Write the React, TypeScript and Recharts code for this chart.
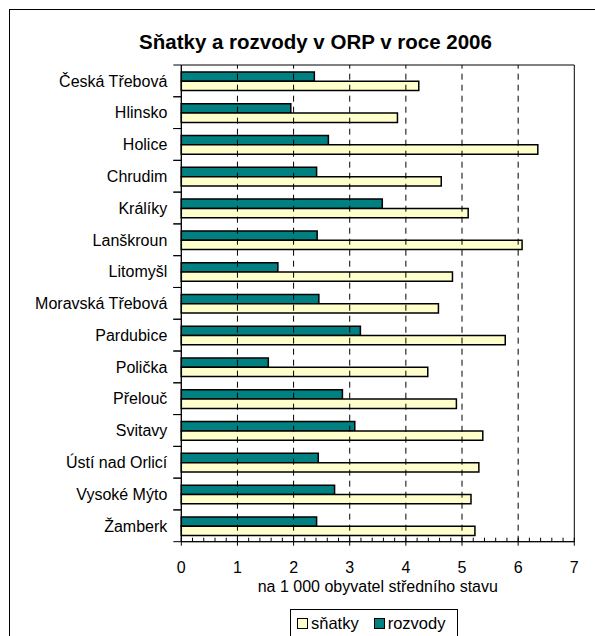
import React from "react";
import { BarChart, Bar, XAxis, YAxis, ReferenceLine, ReferenceArea } from "recharts";

const towns = [
  "Česká Třebová",
  "Hlinsko",
  "Holice",
  "Chrudim",
  "Králíky",
  "Lanškroun",
  "Litomyšl",
  "Moravská Třebová",
  "Pardubice",
  "Polička",
  "Přelouč",
  "Svitavy",
  "Ústí nad Orlicí",
  "Vysoké Mýto",
  "Žamberk",
];

const snatky = [4.23, 3.85, 6.35, 4.63, 5.11, 6.07, 4.83, 4.58, 5.77, 4.39, 4.9, 5.37, 5.3, 5.16, 5.23];
const rozvody = [2.37, 1.95, 2.62, 2.41, 3.58, 2.42, 1.72, 2.45, 3.19, 1.55, 2.87, 3.09, 2.44, 2.73, 2.41];

const majorTicks = [0, 1, 2, 3, 4, 5, 6, 7];
const gridValues = [1, 2, 3, 4, 5, 6];
const minorStep = 0.2;
const axisTicks: number[] = [];
for (let i = 0; i <= 35; i++) axisTicks.push(Math.round(i * minorStep * 10) / 10);

const data = towns.map((town, i) => ({ town, snatky: snatky[i], rozvody: rozvody[i] }));

const FONT = '"Liberation Sans", Arial, sans-serif';
const PLOT_TOP = 65;
const PLOT_BOTTOM = 541.7;
const HALF_BAND = (PLOT_BOTTOM - PLOT_TOP) / towns.length / 2;

const YEAR_COLOR = "#FFFFCC";
const DIV_COLOR = "#008080";

function TownTick(props: any) {
  const { x, y, payload } = props;
  return (
    <g>
      <line x1={x - 8} x2={x} y1={y - HALF_BAND} y2={y - HALF_BAND} stroke="#000" />
      <line x1={x - 8} x2={x} y1={y + HALF_BAND} y2={y + HALF_BAND} stroke="#000" />
      <text x={x - 14} y={y} dy="0.36em" textAnchor="end" fontSize={16} fontFamily={FONT} fill="#000">
        {payload.value}
      </text>
    </g>
  );
}

function ValueTick(props: any) {
  const { x, y, payload } = props;
  const isMajor = Number.isInteger(payload.value);
  return (
    <g>
      <line x1={x} x2={x} y1={y - 4} y2={isMajor ? y + 4 : y} stroke="#000" />
      {isMajor && (
        <text x={x} y={y + 31} textAnchor="middle" fontSize={16} fontFamily={FONT} fill="#000">
          {payload.value}
        </text>
      )}
    </g>
  );
}

function LegendBox() {
  const sq = (color: string) => (
    <span
      style={{
        display: "inline-block",
        width: 9,
        height: 9,
        background: color,
        border: "1.5px solid #000",
        marginRight: 3,
      }}
    />
  );
  return (
    <div
      style={{
        position: "absolute",
        left: 290,
        top: 609,
        width: 168,
        height: 40,
        border: "1px solid #000",
        background: "#fff",
        fontFamily: FONT,
        fontSize: 16.5,
        boxSizing: "border-box",
      }}
    >
      <div style={{ position: "absolute", left: 6, top: 4, display: "flex", alignItems: "center", whiteSpace: "nowrap" }}>
        {sq(YEAR_COLOR)}
        <span>sňatky</span>
        <span style={{ width: 15 }} />
        {sq(DIV_COLOR)}
        <span>rozvody</span>
      </div>
    </div>
  );
}

export default function App() {
  return (
    <div
      style={{
        position: "absolute",
        left: 0,
        top: 0,
        width: 595,
        height: 636,
        overflow: "hidden",
        background: "#fff",
        fontFamily: FONT,
      }}
    >
      <div
        style={{
          position: "absolute",
          left: 9,
          top: 9,
          width: 620,
          height: 660,
          border: "1px solid #000",
        }}
      />
      <div
        style={{
          position: "absolute",
          left: 0,
          width: 631,
          top: 29,
          textAlign: "center",
          fontWeight: "bold",
          fontSize: 20.5,
          lineHeight: "26px",
        }}
      >
        Sňatky a rozvody v ORP v roce 2006
      </div>
      <div style={{ position: "absolute", left: 0, top: 0 }}>
        <BarChart
          width={595}
          height={636}
          data={data}
          layout="vertical"
          margin={{ top: PLOT_TOP, right: 20.7, bottom: 636 - PLOT_BOTTOM - 60, left: 6.3 }}
          barGap={0}
          barSize={9.3}
        >
          <XAxis
            type="number"
            domain={[0, 7]}
            ticks={axisTicks}
            interval={0}
            tick={<ValueTick />}
            tickLine={false}
            tickSize={0}
            tickMargin={0}
            axisLine={{ stroke: "#000" }}
            height={60}
            label={{
              value: "na 1 000 obyvatel středního stavu",
              position: "insideBottom",
              offset: 10,
              fontSize: 16,
              fontFamily: FONT,
              fill: "#000",
            }}
          />
          <YAxis
            type="category"
            dataKey="town"
            width={175}
            interval={0}
            tick={<TownTick />}
            tickLine={false}
            tickSize={0}
            tickMargin={0}
            axisLine={{ stroke: "#000" }}
          />
          {gridValues.map((v) => (
            <ReferenceLine key={v} x={v} stroke="#000" strokeDasharray="6 5" />
          ))}
          <ReferenceArea x1={majorTicks[0]} x2={majorTicks[majorTicks.length - 1]} stroke="#000" fill="none" fillOpacity={0} />
          <Bar dataKey="rozvody" name="rozvody" fill={DIV_COLOR} stroke="#000" strokeWidth={1.5} isAnimationActive={false} />
          <Bar dataKey="snatky" name="sňatky" fill={YEAR_COLOR} stroke="#000" strokeWidth={1.5} isAnimationActive={false} />
        </BarChart>
      </div>
      <LegendBox />
    </div>
  );
}
